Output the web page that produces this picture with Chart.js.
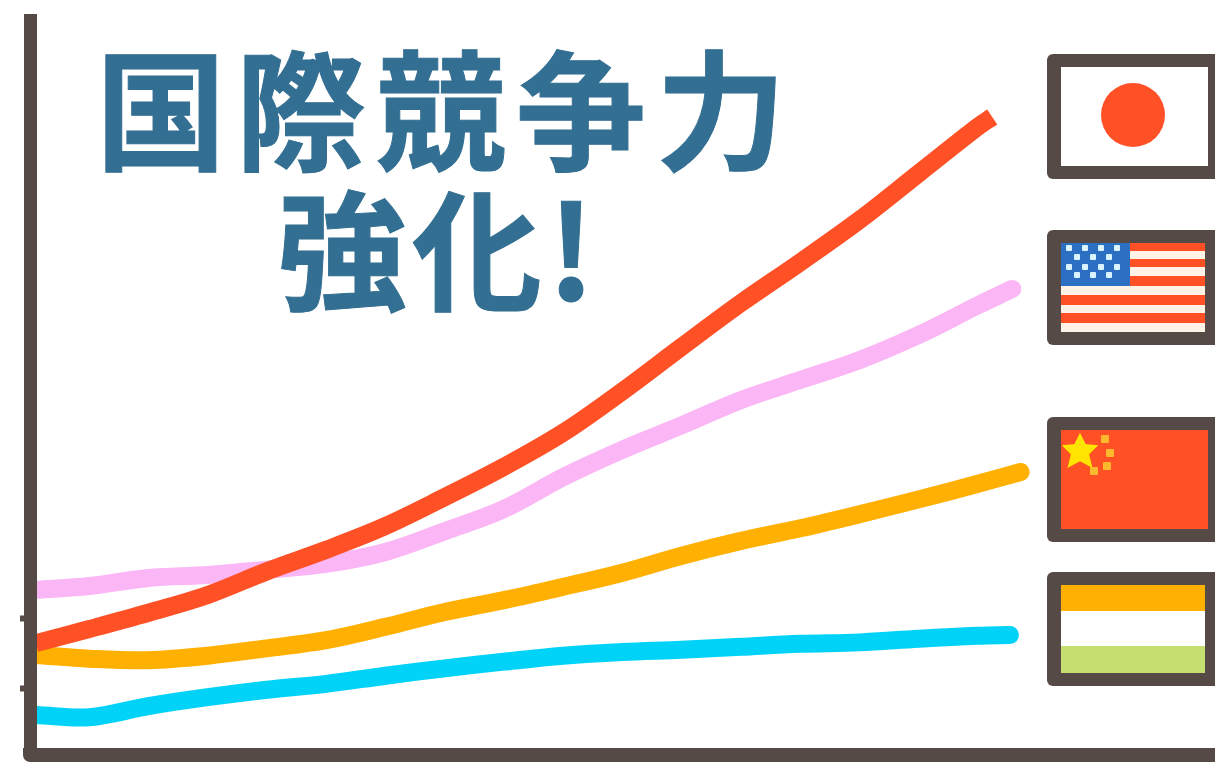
<!DOCTYPE html>
<html lang="ja">
<head>
<meta charset="utf-8">
<title>国際競争力強化!</title>
<script src="https://cdn.jsdelivr.net/npm/chart.js@4"></script>
<style>
  html, body { margin: 0; padding: 0; background: #fff; overflow: hidden; }
  #wrap { position: relative; width: 1215px; height: 762px; }
  #chart { position: absolute; left: 0; top: 0; }
  #flags { position: absolute; left: 0; top: 0; }
  .title {
    position: absolute; white-space: nowrap; color: #336f92;
    font-family: "Noto Sans CJK JP", sans-serif; font-weight: 700;
    font-size: 130px; line-height: 130px; -webkit-text-stroke: 1px #336f92;
  }
  #title1 { left: 96px; top: 38px; letter-spacing: 10px; }
  #title2 { left: 277px; top: 178px; letter-spacing: 5px; }
</style>
</head>
<body>
<div id="wrap">
  <canvas id="chart" width="1215" height="762"></canvas>
  <div class="title" id="title1">国際競争力</div>
  <div class="title" id="title2">強化!</div>
  <svg id="flags" width="1215" height="762" xmlns="http://www.w3.org/2000/svg"></svg>
</div>
<script>
// x軸・y軸は目盛なしなので 0-100 の相対値で読み取り
const xSteps = [0.5, 5, 10, 15, 20, 25, 30, 35, 40, 45, 50, 55, 60, 65, 70, 75, 80];
const yTicks = [9, 18.4];

const japanEndX = 81.2;
const usaEndX = 82.9;
const chinaEndX = 83.6;
const indiaEndX = 82.7;

const japan = [15.1, 17.0, 19.2, 21.6, 24.8, 27.7, 30.9, 34.8, 38.9, 43.5, 49.1, 55.1, 61.0, 66.5, 72.2, 78.5, 84.8, 86.1];
const usa = [22.3, 22.8, 23.9, 24.3, 25.0, 25.8, 27.4, 30.2, 33.2, 37.5, 41.2, 44.5, 47.9, 50.6, 53.3, 56.7, 60.7, 62.9];
const china = [13.5, 13.0, 12.8, 13.4, 14.4, 15.5, 17.3, 19.3, 20.9, 22.7, 24.6, 26.9, 28.9, 30.6, 32.5, 34.5, 36.6, 38.2];
const india = [5.4, 5.1, 6.6, 7.8, 8.8, 9.6, 10.7, 11.7, 12.6, 13.4, 13.9, 14.2, 14.6, 15.0, 15.2, 15.7, 16.1, 16.2];

const axisColor = "#554a46";
const red = "#ff5026";
const pink = "#fbb6f5";
const orange = "#ffb000";
const cyan = "#00d2f8";
const green = "#c6dd6f";

function toPoints(values, endX) {
    const xs = xSteps.concat([endX]);
    return values.map((v, i) => ({ x: xs[i], y: v }));
}

function series(label, values, endX, color, cap) {
    return {
        label: label,
        data: toPoints(values, endX),
        borderColor: color,
        borderWidth: 18,
        borderCapStyle: cap,
        borderJoinStyle: "round",
        pointRadius: 0,
        tension: 0.35,
        clip: false
    };
}

// 軸の左下の角を丸くする
const roundCorner = {
    id: "roundCorner",
    afterDraw(chart) {
        const c = chart.ctx;
        const a = chart.chartArea;
        c.save();
        c.fillStyle = "#fff";
        c.fillRect(a.left - 8, a.bottom, 8, 8);
        c.fillStyle = axisColor;
        c.beginPath();
        c.arc(a.left, a.bottom, 7, 0, Math.PI * 2);
        c.fill();
        c.restore();
    }
};

const ctx = document.getElementById("chart").getContext("2d");
new Chart(ctx, {
    type: "line",
    data: {
        datasets: [
            series("日本", japan, japanEndX, red, "butt"),
            series("アメリカ", usa, usaEndX, pink, "round"),
            series("中国", china, chinaEndX, orange, "round"),
            series("インド", india, indiaEndX, cyan, "round")
        ]
    },
    options: {
        responsive: false,
        animation: false,
        layout: { padding: { left: 20, top: 20, right: 0, bottom: 7 } },
        plugins: { legend: { display: false }, tooltip: { enabled: false } },
        scales: {
            x: {
                type: "linear", min: 0, max: 100,
                ticks: { display: false },
                grid: { display: false, drawTicks: false },
                border: { display: true, color: axisColor, width: 14, z: 1 }
            },
            y: {
                min: 0, max: 99.2,
                afterBuildTicks(scale) { scale.ticks = yTicks.map(v => ({ value: v })); },
                ticks: { display: false },
                grid: { display: true, drawOnChartArea: false, drawTicks: true, tickLength: 10, tickWidth: 6, tickColor: axisColor },
                border: { display: true, color: axisColor, width: 13, z: 1 }
            }
        }
    },
    plugins: [roundCorner]
});

// 右側の国旗
const svg = document.getElementById("flags");

function add(tag, attrs) {
    const el = document.createElementNS("http://www.w3.org/2000/svg", tag);
    for (const k in attrs) el.setAttribute(k, attrs[k]);
    svg.appendChild(el);
}

function rect(x, y, w, h, fill, rx) {
    add("rect", { x: x, y: y, width: w, height: h, fill: fill, rx: rx || 0 });
}

// 日本
rect(1047, 54, 190, 125, axisColor, 6);
rect(1061, 67, 147, 99, "#fff");
add("circle", { cx: 1133, cy: 115, r: 32, fill: red });

// アメリカ
rect(1047, 230, 190, 115, axisColor, 6);
rect(1061, 243, 144, 89, "#fff3e8");
[[243, 8], [259, 8], [276, 10], [295, 10], [313, 10]].forEach(s => rect(1061, s[0], 144, s[1], red));
rect(1061, 243, 69, 43, "#2b70c2");
[[248, 1069], [257, 1077], [267, 1069], [275, 1077]].forEach(row => {
    const count = row[1] === 1069 ? 4 : 3;
    for (let i = 0; i < count; i++) rect(row[1] + i * 16 - 3, row[0] - 3, 6, 6, "#d9f3ff", 1);
});

// 中国
rect(1047, 417, 190, 125, axisColor, 6);
rect(1061, 430, 147, 99, red);
add("polygon", { points: "1080,435 1085,445 1096,446 1088,454 1091,466 1080,460 1069,466 1072,454 1064,446 1075,445", fill: "#ffe400", stroke: "#ffe400", "stroke-width": 2 });
[[1105, 439], [1110, 453], [1107, 466], [1094, 471]].forEach(d => rect(d[0] - 4, d[1] - 4, 8, 8, "#fdb92d", 1));

// インド
rect(1047, 572, 190, 114, axisColor, 6);
rect(1061, 585, 144, 88, "#fff");
rect(1061, 585, 144, 26, orange);
rect(1061, 646, 144, 27, green);
</script>
</body>
</html>
